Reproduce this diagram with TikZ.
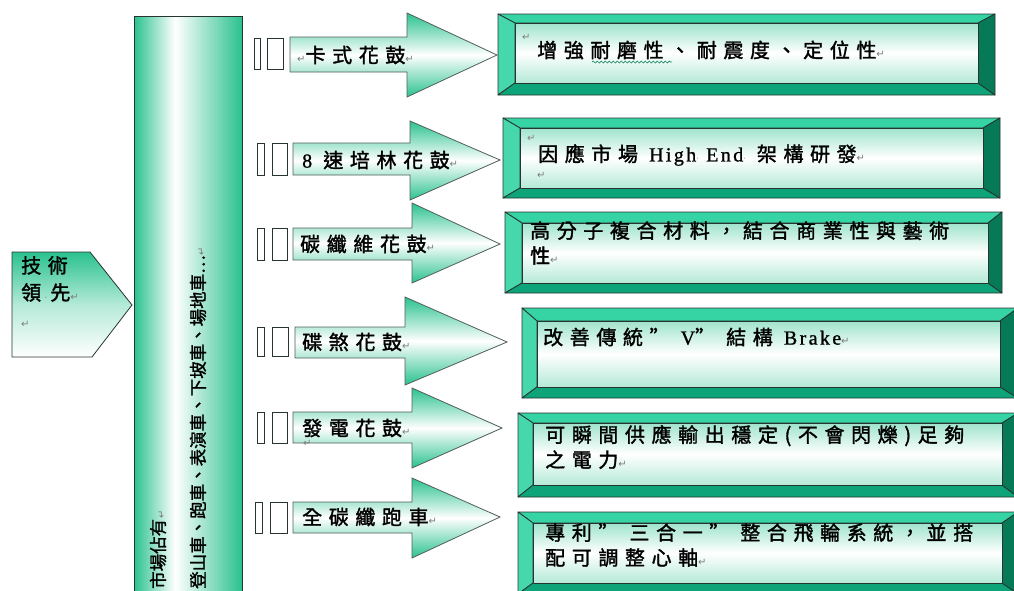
\documentclass[tikz,border=0pt]{standalone}
\usepackage{fontspec}
\setmainfont{Liberation Serif}
\newfontfamily\cjkfont[LetterSpace=33, FakeBold=1.6]{Noto Sans CJK TC}
\newfontfamily\cjkplain[FakeBold=1.4]{Noto Sans CJK TC}
\newfontfamily\latfont[LetterSpace=12, FakeBold=1]{Liberation Serif}
\newfontfamily\retfont{DejaVu Sans}
\usetikzlibrary{decorations.pathmorphing}

\definecolor{hubgreen}{RGB}{42,194,142}
\definecolor{bevtop}{RGB}{54,211,165}
\definecolor{bevleft}{RGB}{70,216,172}
\definecolor{bevbottom}{RGB}{12,164,120}
\definecolor{bevright}{RGB}{6,122,86}
\definecolor{edgegray}{RGB}{40,52,48}
\definecolor{retgray}{RGB}{125,125,125}

\newcommand{\ret}{{\retfont\fontsize{10}{10}\selectfont\textcolor{retgray}{↵}}}
\newcommand{\spdot}{{\retfont\fontsize{8}{8}\selectfont\textcolor{retgray}{·}}}
\newcommand{\lat}[1]{{\latfont #1}}

\pgfdeclarehorizontalshading{columnshade}{100bp}{%
  color(0bp)=(hubgreen); color(25bp)=(hubgreen); color(44bp)=(white);
  color(75bp)=(hubgreen); color(100bp)=(hubgreen)}

\newcommand{\bevelbox}[8]{%
  \filldraw[bevel edge, fill=bevtop] (#1,#2) -- (#3,#2) -- (#7,#6) -- (#5,#6) -- cycle;
  \filldraw[bevel edge, fill=bevleft] (#1,#2) -- (#5,#6) -- (#5,#8) -- (#1,#4) -- cycle;
  \filldraw[bevel edge, fill=bevbottom] (#1,#4) -- (#5,#8) -- (#7,#8) -- (#3,#4) -- cycle;
  \filldraw[bevel edge, fill=bevright] (#3,#2) -- (#3,#4) -- (#7,#8) -- (#7,#6) -- cycle;
  \path[bevel edge, bevel face] (#5,#6) rectangle (#7,#8);
}

\tikzset{
  bevel edge/.style={draw=edgegray, line width=0.8pt, line join=round},
  bevel face/.style={top color=hubgreen!45, bottom color=hubgreen!35, middle color=white},
  hub arrow/.style={draw=edgegray!80, line width=0.8pt, top color=hubgreen, bottom color=hubgreen, middle color=white},
  glyph box/.style={draw=edgegray, fill=white, line width=0.8pt},
  hub label/.style={anchor=west, inner sep=0pt, font=\cjkfont\fontsize{20}{24}\selectfont},
  note text/.style={anchor=west, inner sep=0pt, align=left, font=\cjkfont\fontsize{20}{25}\selectfont},
  column text/.style={anchor=west, inner sep=0pt, rotate=90, font=\cjkplain\fontsize{17.5}{20}\selectfont},
  ret mark/.style={anchor=west, inner sep=0pt},
}

\begin{document}
\begin{tikzpicture}[x=1pt, y=-1pt]
\useasboundingbox (0,0) rectangle (1014,590);

\path[draw=edgegray, line width=0.8pt, top color=hubgreen, bottom color=white, middle color=hubgreen!35]
  (12,252) -- (90,252) -- (132,305) -- (92,357) -- (12,357) -- cycle;
\node[note text, anchor=north west, font=\cjkfont\fontsize{20}{27}\selectfont] (lead) at (21,256) {技術\\領\,\spdot\,先\ret\\\ret};

\path[draw=edgegray, line width=0.8pt, shading=columnshade] (134,16) rectangle (242,600);
\node[column text] (share) at (158,589) {市場佔有\ret};
\node[column text] (bikes) at (198,589) {登山車、跑車、表演車、下坡車、場地車…\ret};

\path[hub arrow] (290,37) -- (407,37) -- (407,13) -- (497,55) -- (407,97) -- (407,72) -- (290,72) -- cycle;
\path[hub arrow] (293,143) -- (410,143) -- (410,121) -- (500,160) -- (410,200) -- (410,175) -- (293,175) -- cycle;
\path[hub arrow] (293,228) -- (412,228) -- (412,203) -- (500,244) -- (412,283) -- (412,260) -- (293,260) -- cycle;
\path[hub arrow] (295,327) -- (405,327) -- (405,297) -- (507,342) -- (405,385) -- (405,358) -- (295,358) -- cycle;
\path[hub arrow] (293,412) -- (412,412) -- (412,388) -- (502,428) -- (412,468) -- (412,443) -- (293,443) -- cycle;
\path[hub arrow] (293,502) -- (412,502) -- (412,478) -- (500,517) -- (412,558) -- (412,533) -- (293,533) -- cycle;

\draw[glyph box] (254,38) rectangle (260,69)   (267,38) rectangle (283,69);
\draw[glyph box] (257,143) rectangle (264,175)   (272,143) rectangle (287,175);
\draw[glyph box] (257,228) rectangle (264,260)   (272,228) rectangle (287,260);
\draw[glyph box] (257,327) rectangle (264,356)   (272,327) rectangle (288,356);
\draw[glyph box] (257,412) rectangle (264,443)   (272,412) rectangle (287,443);
\draw[glyph box] (255,502) rectangle (262,533)   (270,502) rectangle (287,533);

\node[hub label] (cassette) at (297,55) {\ret 卡式花鼓\ret};
\node[hub label] (speed) at (302,160) {\lat{8} 速培林花鼓\ret};
\node[hub label] (carbon) at (300,244) {碳纖維花鼓\ret};
\node[hub label] (disc) at (302,342) {碟煞花鼓\ret};
\node[hub label] (dynamo) at (302,428) {發電花鼓\ret};
\node[ret mark] (dynamoret) at (303,443) {\ret};
\node[hub label] (frame) at (302,517) {全碳纖跑車\ret};

\bevelbox{498}{14}{995}{95}{515}{23}{978}{83}
\bevelbox{503}{118}{1000}{198}{520}{128}{983}{188}
\bevelbox{505}{212}{1002}{293}{522}{223}{988}{283}
\bevelbox{522}{308}{1018}{398}{537}{321}{1000}{387}
\bevelbox{518}{413}{1018}{497}{533}{423}{1002}{485}
\bevelbox{518}{512}{1018}{594}{533}{523}{1002}{583}

\node[ret mark] (wearret) at (522,37) {\ret};
\node[note text] (wear) at (537,50) {增強耐磨性、耐震度、定位性\ret};
\draw[hubgreen!70!black, line width=0.7pt, decorate, decoration={snake, amplitude=1pt, segment length=4pt}]
  (592,62) -- (672,62);

\node[ret mark] (highret) at (527,138) {\ret};
\node[note text] (high) at (538,155) {因應市場 \lat{High\spdot{} End\spdot{}} 架構研發\ret};
\node[ret mark] (highret2) at (537,175) {\ret};

\node[note text] (polymer) at (530,243) {高分子複合材料，結合商業性與藝術\\性\ret};
\node[note text] (brake) at (543,337) {改善傳統” \lat{V}” 結構 \lat{Brake}\ret};
\node[note text] (power) at (545,447) {可瞬間供應輸出穩定(不會閃爍)足夠\\之電力\ret};
\node[note text] (patent) at (545,545) {專利” 三合一” 整合飛輪系統，並搭\\配可調整心軸\ret};

\end{tikzpicture}
\end{document}
